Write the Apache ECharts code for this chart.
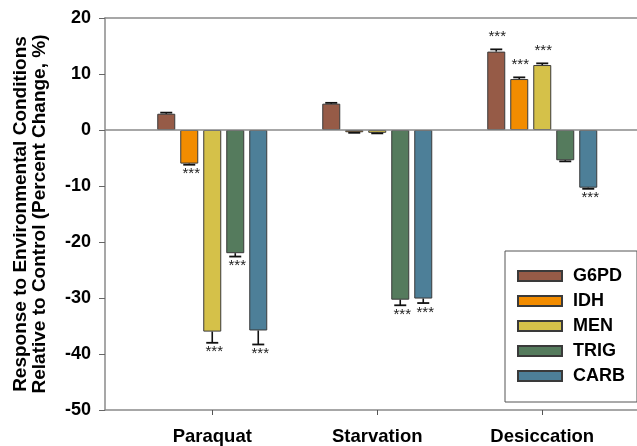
<!DOCTYPE html>
<html>
<head>
<meta charset="utf-8">
<script src="https://cdn.jsdelivr.net/npm/echarts@6/dist/echarts.min.js"></script>
<style>
  html, body { margin: 0; padding: 0; background: #fff; }
  #chart { width: 637px; height: 446px; }
</style>
</head>
<body>
<div id="chart"></div>
<script>
// Conditions on the x axis (placed at 1, 2, 3)
const categories = ['Paraquat', 'Starvation', 'Desiccation'];
const enzymes = ['G6PD', 'IDH', 'MEN', 'TRIG', 'CARB'];

// Percent change relative to control, one array per measure (Paraquat, Starvation, Desiccation)
const g6pd = [2.9, 4.7, 14.0];
const idh  = [-6.0, -0.4, 9.1];
const men  = [-36.0, -0.5, 11.6];
const trig = [-22.0, -30.3, -5.4];
const carb = [-35.8, -30.1, -10.3];

// Standard errors
const g6pdErr = [0.2, 0.15, 0.4];
const idhErr  = [0.2, 0.1, 0.3];
const menErr  = [2.0, 0.1, 0.3];
const trigErr = [0.6, 1.0, 0.2];
const carbErr = [2.5, 0.8, 0.2];

// Significance marks (***)
const g6pdSig = [false, false, true];
const idhSig  = [true, false, true];
const menSig  = [true, false, true];
const trigSig = [true, true, false];
const carbSig = [true, true, true];

// Y axis ticks
const yMin = -50, yMax = 20, yStep = 10;

const values = [g6pd, idh, men, trig, carb];
const errors = [g6pdErr, idhErr, menErr, trigErr, carbErr];
const sigs = [g6pdSig, idhSig, menSig, trigSig, carbSig];
const colors = ['#965b47', '#f28c00', '#d5c149', '#557b5d', '#4d7f98'];

const FONT = '"Liberation Sans", Arial, sans-serif';
const AXIS_GREY = '#8a8a8a';
const BAR_W = 18, BAR_GAP_PX = 5, BAR_STEP = BAR_W + BAR_GAP_PX;
const positions = categories.map((c, i) => i + 1);

const chart = echarts.init(document.getElementById('chart'), null, { renderer: 'canvas' });

const barSeries = enzymes.map((name, k) => ({
  type: 'bar',
  name: name,
  barWidth: BAR_W,
  barGap: (BAR_GAP_PX / BAR_W * 100) + '%',
  data: positions.map((x, i) => [x, values[k][i]]),
  itemStyle: { color: colors[k], borderColor: '#3a3a3a', borderWidth: 1 },
  silent: true,
  markLine: k === 0 ? {
    silent: true, symbol: 'none', label: { show: false },
    lineStyle: { color: AXIS_GREY, width: 1.5, type: 'solid' },
    data: [{ yAxis: 0 }]
  } : undefined
}));

// Error bars with caps, plus *** marks beyond the cap
const errSeries = enzymes.map((name, k) => ({
  type: 'custom',
  name: 'err-' + name,
  z: 5,
  silent: true,
  clip: false,
  data: positions.map((x, i) => [x, values[k][i], errors[k][i], sigs[k][i] ? 1 : 0]),
  renderItem: function (params, api) {
    const x = api.value(0), v = api.value(1), e = api.value(2), s = api.value(3);
    const end = v >= 0 ? v + e : v - e;
    const p0 = api.coord([x, v]);
    const p1 = api.coord([x, end]);
    const cx = p0[0] + (k - 2) * BAR_STEP;
    const children = [
      { type: 'line', shape: { x1: cx, y1: p0[1], x2: cx, y2: p1[1] },
        style: { stroke: '#111', lineWidth: 1.6 } },
      { type: 'line', shape: { x1: cx - 6, y1: p1[1], x2: cx + 6, y2: p1[1] },
        style: { stroke: '#111', lineWidth: 1.8 } }
    ];
    if (s) {
      const up = v >= 0;
      children.push({
        type: 'text',
        style: {
          text: '***', x: cx + (up ? 1 : 2), y: up ? p1[1] - 5 : p1[1] + 2,
          align: 'center', verticalAlign: up ? 'bottom' : 'top',
          fill: '#222', font: '15px ' + FONT
        }
      });
    }
    return { type: 'group', children: children };
  }
}));

const labelFont = { fontFamily: FONT, fontWeight: 'bold', color: '#000' };

chart.setOption({
  animation: false,
  backgroundColor: '#fff',
  grid: { left: 105, top: 18, right: 0, bottom: 36 },
  legend: {
    data: enzymes,
    orient: 'vertical',
    left: 505, top: 251,
    padding: [15, 12, 16, 12],
    itemWidth: 44, itemHeight: 10, itemGap: 5,
    icon: 'rect',
    borderColor: '#555', borderWidth: 1, backgroundColor: '#fff',
    selectedMode: false,
    textStyle: Object.assign({ fontSize: 18, lineHeight: 20, padding: [0, 0, 0, 6] }, labelFont)
  },
  xAxis: [{
    type: 'value',
    position: 'bottom',
    min: 0.35, max: 0.35 + 532 / 165,
    splitLine: { show: false },
    axisLine: { show: true, onZero: false, lineStyle: { color: AXIS_GREY, width: 1.5 } },
    axisTick: { show: true, customValues: positions, length: 5, lineStyle: { color: '#555', width: 1 } },
    axisLabel: Object.assign({
      customValues: positions,
      formatter: v => categories[Math.round(v) - 1] || '',
      fontSize: 18.5, margin: 17
    }, labelFont)
  }, {
    // frame line along the top of the plot
    type: 'value',
    position: 'top',
    min: 0.35, max: 0.35 + 532 / 165,
    splitLine: { show: false },
    axisLine: { show: true, onZero: false, lineStyle: { color: AXIS_GREY, width: 1.5 } },
    axisTick: { show: false },
    axisLabel: { show: false }
  }],
  yAxis: {
    type: 'value',
    min: yMin, max: yMax, interval: yStep,
    name: 'Response to Environmental Conditions\nRelative to Control (Percent Change, %)',
    nameLocation: 'middle', nameGap: 56,
    nameTextStyle: Object.assign({ fontSize: 19, lineHeight: 19 }, labelFont),
    splitLine: { show: false },
    axisLine: { show: true, onZero: false, lineStyle: { color: AXIS_GREY, width: 1.5 } },
    axisTick: { show: true, inside: false, length: 6, lineStyle: { color: '#666', width: 1 } },
    axisLabel: Object.assign({ fontSize: 18, margin: 14 }, labelFont)
  },
  series: barSeries.concat(errSeries)
});
</script>
</body>
</html>
